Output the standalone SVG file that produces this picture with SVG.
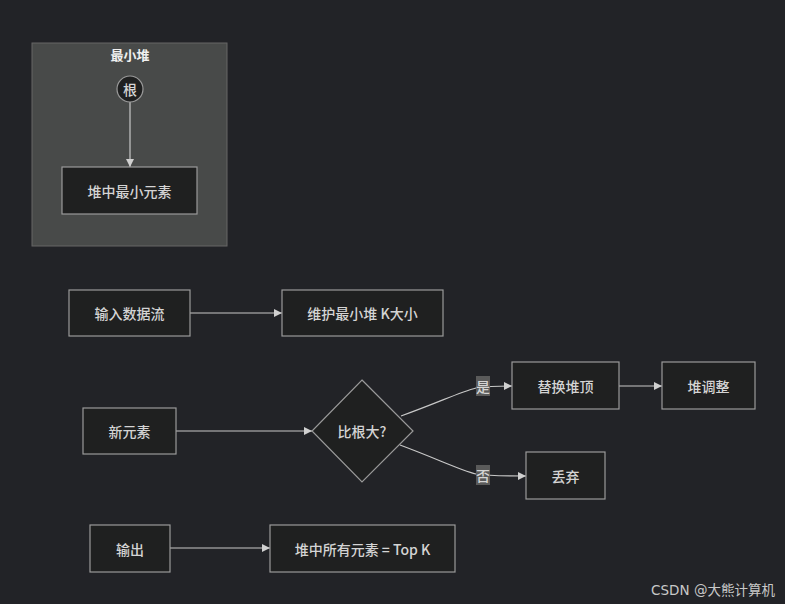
<svg xmlns="http://www.w3.org/2000/svg" width="785" height="604" viewBox="0 0 785 604">
<defs>
<style>
text{font-family:"Noto Sans CJK SC","Liberation Sans",sans-serif;fill:#d4d4d4;font-size:14px;font-weight:500;text-anchor:middle;dominant-baseline:central}
.node{fill:#1f2020;stroke:#9a9a9a;stroke-width:1.2}
.edge{fill:none;stroke:#c8c8c8;stroke-width:1.2;marker-end:url(#arr)}
.lbl{fill:#5a5a5a}
</style>
<marker id="arr" viewBox="0 0 10 10" refX="10" refY="5" markerWidth="8" markerHeight="8" orient="auto" markerUnits="userSpaceOnUse"><path d="M0,0L10,5L0,10z" fill="#d0d0d0"/></marker>
</defs>
<rect width="785" height="604" fill="#222327"/>
<g id="cluster">
<rect x="32" y="43" width="195" height="203" fill="#484a49" stroke="#666" stroke-width="1"/>
<text x="130" y="54" style="font-weight:bold;font-size:13px;fill:#f0f0f0">最小堆</text>
</g>
<g id="edges">
<path class="edge" d="M130,102V167"/>
<path class="edge" d="M190,313H282"/>
<path class="edge" d="M176,431H312"/>
<path class="edge" d="M401,416C440,402 460,392 476,388C490,386 500,386 512,386"/>
<path class="edge" d="M400,445C440,460 460,470 476,474C490,476 500,476 526,476"/>
<path class="edge" d="M619,386H662"/>
<path class="edge" d="M170,548H270"/>
</g>
<g id="n_root"><circle class="node" cx="130" cy="89" r="13"/><text x="130" y="89">根</text></g>
<g id="n_min"><rect class="node" x="62" y="167" width="135" height="47"/><text x="129.5" y="190.5">堆中最小元素</text></g>
<g id="n_input"><rect class="node" x="69" y="290" width="121" height="46"/><text x="129.5" y="313">输入数据流</text></g>
<g id="n_keep"><rect class="node" x="282" y="290" width="161" height="46"/><text x="362.5" y="313">维护最小堆 K大小</text></g>
<g id="n_new"><rect class="node" x="83" y="408" width="93" height="46"/><text x="129.5" y="431">新元素</text></g>
<g id="n_cmp"><path class="node" d="M362,380L413,431L362,482L312,431Z"/><text x="362" y="431">比根大?</text></g>
<g id="n_replace"><rect class="node" x="512" y="362" width="107" height="47"/><text x="565.5" y="385.5">替换堆顶</text></g>
<g id="n_adjust"><rect class="node" x="662" y="362" width="93" height="47"/><text x="708.5" y="385.5">堆调整</text></g>
<g id="n_drop"><rect class="node" x="526" y="452" width="79" height="47"/><text x="565.5" y="475.5">丢弃</text></g>
<g id="n_out"><rect class="node" x="90" y="525" width="80" height="47"/><text x="130" y="548.5">输出</text></g>
<g id="n_topk"><rect class="node" x="270" y="525" width="185" height="47"/><text x="362.5" y="548.5">堆中所有元素 = Top K</text></g>
<g id="labels">
<rect class="lbl" x="476" y="376" width="14" height="20"/><text x="483" y="386">是</text>
<rect class="lbl" x="476" y="465" width="14" height="20"/><text x="483" y="475">否</text>
</g>
<text x="713" y="590" style="font-size:13.5px;font-weight:normal;fill:#c8c8c8;font-family:'DejaVu Sans','Noto Sans CJK SC',sans-serif">CSDN @大熊计算机</text>
</svg>
